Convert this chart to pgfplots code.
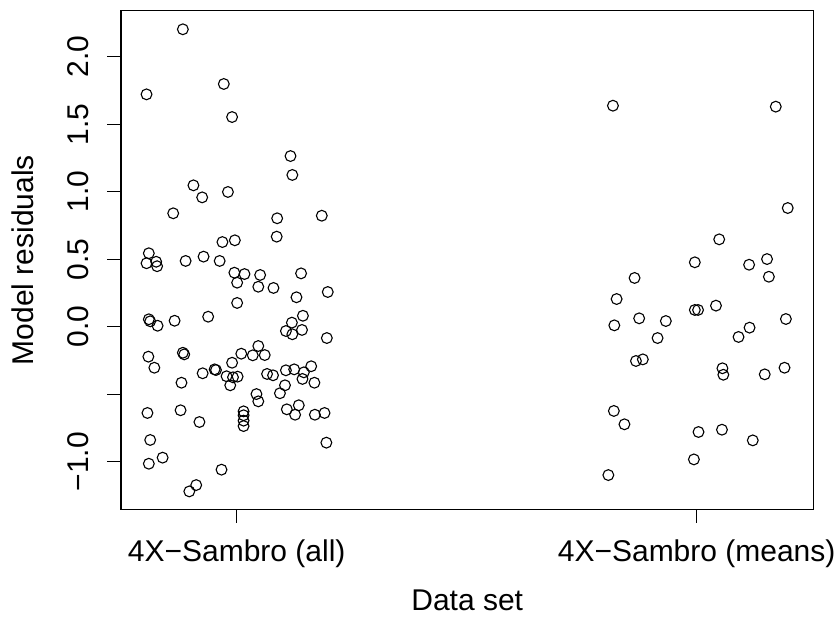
\documentclass[border=0pt]{standalone}
\usepackage{fontspec}
\setmainfont{Liberation Sans}
\usepackage{pgfplots}
\pgfplotsset{compat=1.18}

% Residuals, jittered horizontally around each data set position (1 = all, 2 = means)
\pgfplotstableread{
x y
0.883 2.203
0.804 1.721
0.972 1.798
0.990 1.553
1.117 1.264
1.121 1.124
0.906 1.047
0.925 0.958
0.981 0.998
0.862 0.840
1.088 0.803
1.185 0.822
1.087 0.667
0.969 0.627
0.996 0.640
0.809 0.544
0.804 0.470
0.825 0.481
0.827 0.448
0.889 0.487
0.928 0.519
0.963 0.487
0.995 0.400
1.017 0.390
1.051 0.383
1.140 0.395
1.001 0.326
1.047 0.296
1.080 0.287
1.130 0.218
1.198 0.257
1.001 0.176
0.938 0.074
0.809 0.055
0.812 0.040
0.828 0.007
0.865 0.044
1.144 0.081
1.120 0.030
1.107 -0.032
1.121 -0.056
1.142 -0.024
1.196 -0.084
0.808 -0.222
0.821 -0.304
0.883 -0.193
0.886 -0.205
1.010 -0.200
1.047 -0.143
1.035 -0.212
1.061 -0.210
0.990 -0.267
0.926 -0.345
0.952 -0.316
0.955 -0.321
0.978 -0.367
0.992 -0.375
1.002 -0.370
0.986 -0.434
0.880 -0.415
1.066 -0.350
1.079 -0.360
1.107 -0.323
1.125 -0.316
1.146 -0.338
1.162 -0.293
1.143 -0.387
1.169 -0.415
1.105 -0.434
1.094 -0.493
1.043 -0.499
1.047 -0.553
0.806 -0.639
0.878 -0.619
0.919 -0.706
1.015 -0.627
1.015 -0.656
1.015 -0.696
1.015 -0.736
1.109 -0.612
1.135 -0.582
1.127 -0.652
1.170 -0.652
1.191 -0.639
0.812 -0.839
1.195 -0.859
0.809 -1.015
0.839 -0.970
0.967 -1.059
0.912 -1.173
0.897 -1.220
}\residall

\pgfplotstableread{
x y
1.818 1.637
2.172 1.630
2.198 0.879
2.049 0.647
1.996 0.477
2.114 0.459
2.153 0.501
2.157 0.370
1.865 0.361
1.826 0.205
1.821 0.010
1.875 0.062
1.933 0.042
1.915 -0.084
1.996 0.124
2.003 0.124
2.042 0.156
2.194 0.057
2.115 -0.007
2.091 -0.076
1.868 -0.254
1.883 -0.242
2.056 -0.308
2.058 -0.356
2.148 -0.353
2.191 -0.304
1.820 -0.624
1.843 -0.723
2.004 -0.780
2.055 -0.763
2.122 -0.842
1.994 -0.983
1.808 -1.099
}\residmeans

\begin{document}
\begin{tikzpicture}[font=\fontsize{15}{18}\selectfont]
\begin{axis}[
  name=ax,
  scale only axis,
  width=346.25pt, height=249.3pt,
  xmin=0.7485, xmax=2.254,
  ymin=-1.3526, ymax=2.3407,
  axis line style={black, line width=0.6pt},
  tick style={black, line width=0.6pt},
  tick align=outside,
  xtick pos=bottom, ytick pos=left,
  major tick length=6.8pt,
  xtick={1,2},
  xticklabels={4X−Sambro (all), 4X−Sambro (means)},
  ytick={-1,-0.5,0,0.5,1,1.5,2},
  yticklabels={−1.0,,0.0,0.5,1.0,1.5,2.0},
  xticklabel style={anchor=base, yshift=-19.5pt},
  yticklabel style={xshift=-9.5pt, rotate=90, anchor=base},
  xlabel={Data set},
  ylabel={Model residuals},
  xlabel style={at={([yshift=-50.5pt]axis description cs:0.5,0)}, anchor=base},
  ylabel style={at={([xshift=-43.75pt]axis description cs:0,0.5)}, anchor=base},
  clip=false,
]
\addplot[only marks, mark=o, mark size=2.7pt, mark options={line width=0.55pt, black}] table[x=x,y=y] {\residall};
\addplot[only marks, mark=o, mark size=2.7pt, mark options={line width=0.55pt, black}] table[x=x,y=y] {\residmeans};
\end{axis}
\pgfresetboundingbox
\path[use as bounding box] ([xshift=-60.5pt,yshift=-54.35pt]ax.south west) rectangle ([xshift=11.75pt,yshift=5.35pt]ax.north east);
\end{tikzpicture}
\end{document}
